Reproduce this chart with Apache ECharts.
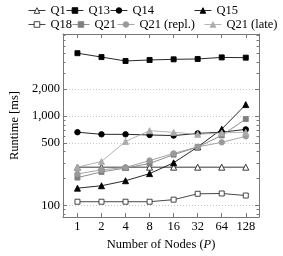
<!DOCTYPE html>
<html><head><meta charset="utf-8">
<script src="https://cdn.jsdelivr.net/npm/echarts@6/dist/echarts.min.js"></script>
<style>html,body{margin:0;padding:0;background:#fff}#c{width:283px;height:256px}</style>
</head><body><div id="c"></div>
<script>
// ---- data ----
const categories = ['1', '2', '4', '8', '16', '32', '64', '128'];
const q1      = [268, 268, 268, 268, 268, 268, 268, 268];
const q13     = [5060, 4580, 4140, 4250, 4320, 4360, 4540, 4510];
const q14     = [660, 625, 625, 615, 605, 640, 660, 710];
const q15     = [156, 166, 189, 227, 300, 451, 714, 1345];
const q18     = [110, 110, 110, 110, 116, 135, 136, 129];
const q21     = [205, 237, 262, 295, 370, 450, 608, 927];
const q21repl = [225, 250, 266, 318, 382, 452, 508, 594];
const q21late = [268, 310, 520, 686, 658, 625, 648, 658];
const seriesNames = ['Q1', 'Q13', 'Q14', 'Q15', 'Q18', 'Q21', 'Q21 (repl.)', 'Q21 (late)'];
const yTickVals  = [100, 500, 1000, 2000];
const yMinorVals = [80, 90, 200, 300, 400, 600, 700, 800, 900, 3000, 4000, 5000, 6000, 7000, 8000];

// ---- layout / style ----
const yMin = 74, yMax = 8300;
const xMin = -0.6, xMax = 7.55;
const FONT = 'Liberation Serif';
const FS = 12.5;
const AX = '#777';

const allData = [q1, q13, q14, q15, q18, q21, q21repl, q21late];
const styles = [
  {symbol: 'triangle', size: 6, fill: '#fff', stroke: '#222', line: '#222'},
  {symbol: 'rect', size: 5, fill: '#000', stroke: '#000', line: '#111'},
  {symbol: 'circle', size: 5.5, fill: '#000', stroke: '#000', line: '#111'},
  {symbol: 'triangle', size: 6, fill: '#000', stroke: '#000', line: '#111'},
  {symbol: 'rect', size: 5, fill: '#fff', stroke: '#333', line: '#333'},
  {symbol: 'rect', size: 5, fill: '#808080', stroke: '#808080', line: '#808080'},
  {symbol: 'circle', size: 5.5, fill: '#9a9a9a', stroke: '#9a9a9a', line: '#9a9a9a'},
  {symbol: 'triangle', size: 6, fill: '#ababab', stroke: '#ababab', line: '#ababab'}
];
const legendPos = [
  [28, 4], [66, 4], [110, 4], [194, 4],
  [28, 18], [72, 18], [117, 18], [204, 18]
];

const lg = v => Math.log10(v);
const catIdx = categories.map((c, i) => i);
const yLabel = v => {
  for (const t of yTickVals) if (Math.abs(lg(t) - v) < 1e-6) return t.toLocaleString('en-US');
  return '';
};

const series = allData.map((arr, k) => ({
  name: seriesNames[k],
  type: 'line',
  xAxisIndex: 0, yAxisIndex: 0,
  data: arr.map((v, i) => [i, v]),
  symbol: styles[k].symbol,
  symbolSize: styles[k].size,
  lineStyle: {color: styles[k].line, width: 0.9},
  itemStyle: {color: styles[k].fill, borderColor: styles[k].stroke, borderWidth: 0.9},
  emphasis: {disabled: true},
  z: 2 + k
}));

const legends = seriesNames.map((n, k) => ({
  data: [n], left: legendPos[k][0], top: legendPos[k][1],
  padding: 0, itemGap: 0, itemWidth: 17, itemHeight: 7,
  selectedMode: false,
  itemStyle: {borderWidth: 0.9},
  lineStyle: {width: 0.9},
  textStyle: {fontFamily: FONT, fontSize: FS, color: '#000'}
}));

const yOverlay = (pos, vals, len, withLine, withLabels) => ({
  type: 'value', position: pos, min: lg(yMin), max: lg(yMax),
  axisLine: {show: withLine, onZero: false, lineStyle: {color: AX, width: 1}},
  axisTick: {show: true, inside: true, length: len, customValues: vals.map(lg), lineStyle: {color: AX, width: 1}},
  axisLabel: withLabels ? {show: true, customValues: vals.map(lg), formatter: yLabel, margin: 3,
    fontFamily: FONT, fontSize: FS, color: '#000'} : {show: false},
  splitLine: withLabels ? {show: true, lineStyle: {color: '#c8c8c8', type: [1, 2], width: 1}} : {show: false},
  name: withLabels ? 'Runtime [ms]' : '',
  nameLocation: 'middle', nameGap: 27,
  nameTextStyle: {fontFamily: FONT, fontSize: FS, color: '#000'}
});

const chart = echarts.init(document.getElementById('c'), null, {renderer: 'canvas'});
chart.setOption({
  animation: false,
  backgroundColor: '#fff',
  legend: legends,
  grid: {left: 47, top: 34, width: 212, height: 188, containLabel: false},
  xAxis: [
    {type: 'value', position: 'bottom', min: xMin, max: xMax,
      axisLine: {show: true, onZero: false, lineStyle: {color: AX, width: 1}},
      axisTick: {show: true, inside: true, length: 4, customValues: catIdx, lineStyle: {color: AX, width: 1}},
      axisLabel: {show: true, customValues: catIdx, formatter: v => categories[Math.round(v)], margin: 3,
        fontFamily: FONT, fontSize: FS, color: '#000'},
      splitLine: {show: false},
      name: 'Number of Nodes ({i|P})', nameLocation: 'middle', nameGap: 17,
      nameTextStyle: {fontFamily: FONT, fontSize: FS, color: '#000',
        rich: {i: {fontFamily: FONT, fontSize: FS, fontStyle: 'italic', color: '#000'}}}
    },
    {type: 'value', position: 'top', min: xMin, max: xMax,
      axisLine: {show: true, onZero: false, lineStyle: {color: AX, width: 1}},
      axisTick: {show: true, inside: true, length: 4, customValues: catIdx, lineStyle: {color: AX, width: 1}},
      axisLabel: {show: false}, splitLine: {show: false}
    }
  ],
  yAxis: [
    {type: 'log', logBase: 10, min: yMin, max: yMax, show: false,
      axisLine: {onZero: false}, splitLine: {show: false}},
    yOverlay('left', yTickVals, 4, true, true),
    yOverlay('left', yMinorVals, 2.5, false, false),
    yOverlay('right', yTickVals, 4, true, false),
    yOverlay('right', yMinorVals, 2.5, false, false)
  ],
  series: series
});
</script>
</body></html>
